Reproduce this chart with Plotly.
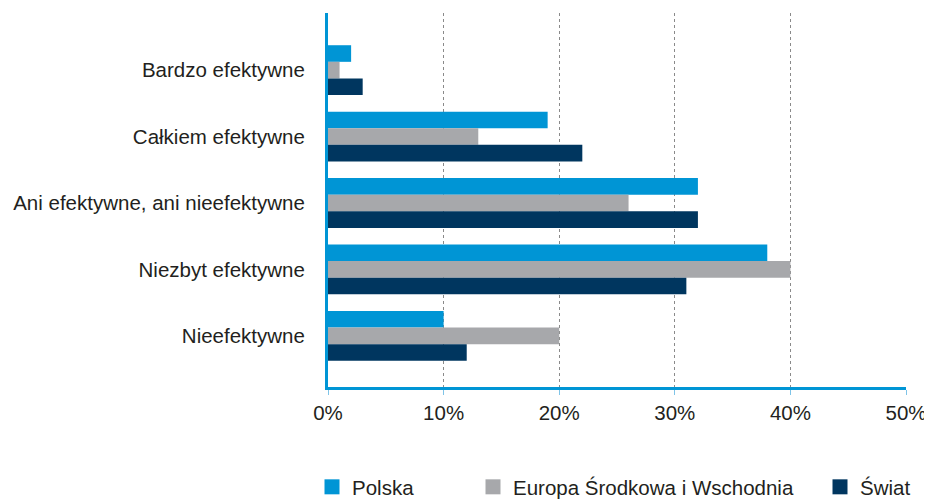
import plotly.graph_objects as go

categories = ["Bardzo efektywne", "Całkiem efektywne", "Ani efektywne, ani nieefektywne",
              "Niezbyt efektywne", "Nieefektywne"]
polska = [2, 19, 32, 38, 10]
europa = [1, 13, 26, 40, 20]
swiat = [3, 22, 32, 31, 12]
series_names = ["Polska", "Europa Środkowa i Wschodnia", "Świat"]
tick_vals = [0, 10, 20, 30, 40, 50]
tick_text = ["0%", "10%", "20%", "30%", "40%", "50%"]

colors = ["#0095D5", "#A7A8AB", "#00365F"]
FONT = "Liberation Sans, Arial, Helvetica, sans-serif"
TXT = "#231F20"
FS = 20.5

# page body has an 8px default margin: size the figure so it fills the 932x499 window
W, H = 924, 491

fig = go.Figure()
legend_ids = ["legend", "legend2", "legend3"]
for i, (name, vals) in enumerate(zip(series_names, [polska, europa, swiat])):
    fig.add_trace(go.Bar(
        y=categories, x=vals, name=name, orientation="h",
        marker=dict(color=colors[i], line=dict(width=0)),
        showlegend=False, legendgroup=name,
        hoverinfo="x+name",
    ))
    # legend-only entry with a larger square swatch
    fig.add_trace(go.Scatter(
        y=[None], x=[None], name=name, mode="markers",
        marker=dict(color=colors[i], symbol="square", size=15),
        showlegend=True, legendgroup=name, legend=legend_ids[i],
        hoverinfo="skip",
    ))

legend_common = dict(orientation="h", xref="container", yref="container",
                     yanchor="middle", y=12 / H, xanchor="left",
                     font=dict(family=FONT, size=FS, color=TXT),
                     bgcolor="rgba(0,0,0,0)", itemwidth=30,
                     itemclick=False, itemdoubleclick=False)

fig.update_layout(
    width=W, height=H,
    margin=dict(l=318, r=26, t=5, b=112),
    paper_bgcolor="white", plot_bgcolor="white",
    barmode="group", bargap=0.25, bargroupgap=0,
    font=dict(family=FONT, size=FS, color=TXT),
    showlegend=True,
    legend=dict(legend_common, x=304 / W),
    legend2=dict(legend_common, x=465 / W),
    legend3=dict(legend_common, x=812 / W),
    xaxis=dict(
        range=[0, 50], tickvals=tick_vals, ticktext=tick_text,
        showgrid=True, gridcolor="#8A8A8A", griddash="dot", gridwidth=1,
        zeroline=False,
        showline=True, linecolor="#0095D5", linewidth=3,
        ticks="outside", ticklen=5, tickcolor="#7FC4E8", tickwidth=1,
        ticklabelstandoff=0,
        tickfont=dict(family=FONT, size=FS, color=TXT),
        fixedrange=True,
    ),
    yaxis=dict(
        type="category", categoryorder="array", categoryarray=categories,
        range=[4.77, -0.86],
        showgrid=False, zeroline=False,
        showline=True, linecolor="#0095D5", linewidth=3,
        ticks="", ticklabelstandoff=16,
        tickfont=dict(family=FONT, size=FS, color=TXT),
        fixedrange=True,
    ),
)

fig.write_html("out.html")
